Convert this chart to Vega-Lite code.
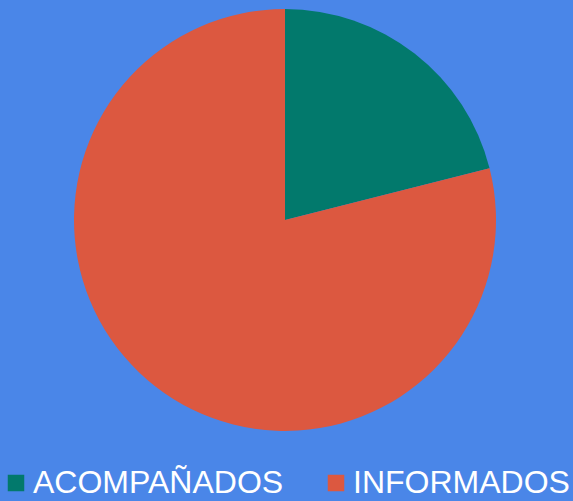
{
  "$schema": "https://vega.github.io/schema/vega-lite/v6.json",
  "width": 570,
  "height": 440,
  "padding": {"left": 0, "top": 0, "right": 3, "bottom": 10},
  "background": "#4a86e8",
  "config": {"view": {"stroke": null}},
  "data": {"values": [
    {"category": "ACOMPAÑADOS", "value": 4},
    {"category": "INFORMADOS", "value": 15}
  ]},
  "mark": {"type": "arc", "outerRadius": 211, "stroke": null},
  "encoding": {
    "theta": {"field": "value", "type": "quantitative", "stack": true},
    "order": {"field": "category"},
    "color": {
      "field": "category",
      "type": "nominal",
      "scale": {"domain": ["ACOMPAÑADOS", "INFORMADOS"], "range": ["#02796c", "#dc5840"]},
      "legend": {
        "title": null,
        "orient": "bottom",
        "direction": "horizontal",
        "symbolType": "square",
        "symbolSize": 272,
        "symbolStrokeWidth": 0,
        "symbolOpacity": 1,
        "labelFont": "Liberation Sans",
        "labelFontSize": 32,
        "labelColor": "#ffffff",
        "labelLimit": 400,
        "labelOffset": 1,
        "columnPadding": 36,
        "offset": 27
      }
    }
  }
}
